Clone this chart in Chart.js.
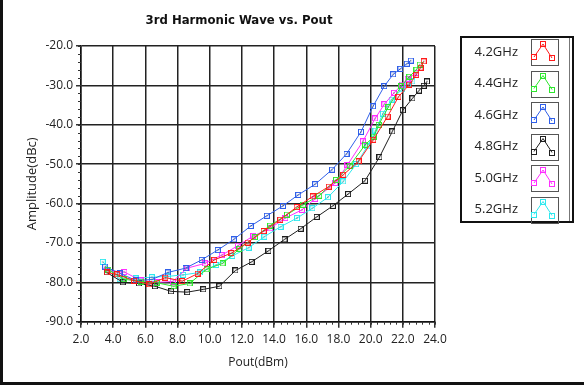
<!DOCTYPE html>
<html>
<head>
<meta charset="utf-8">
<script src="https://cdn.jsdelivr.net/npm/chart.js@4.4.0/dist/chart.umd.min.js"></script>
<style>
  html, body { margin: 0; padding: 0; background: #fff; }
  #wrap { position: relative; width: 584px; height: 385px; overflow: hidden; }
  #frameL { position: absolute; left: 0; top: 0; width: 3px; height: 385px; background: #111; }
  #frameB { position: absolute; left: 0; bottom: 0; width: 584px; height: 3px; background: #111; }
</style>
</head>
<body>
<div id="wrap">
  <canvas id="harmonicChart" width="584" height="385"></canvas>
  <div id="frameL"></div>
  <div id="frameB"></div>
</div>
<script>
// ========== DATA ==========
const seriesLabels = ['4.2GHz', '4.4GHz', '4.6GHz', '4.8GHz', '5.0GHz', '5.2GHz'];
const seriesColors = ['#ff1a1a', '#2ee62e', '#2f5fe8', '#1e1e1e', '#ff2eff', '#2ee8ee'];

const pout42 = [3.6, 4.25, 5.3, 6.25, 7.25, 8.3, 9.25, 10.28, 11.35, 12.35, 13.35, 14.38, 15.4, 16.4, 17.4, 18.3, 19.25, 20.17, 21.05, 21.73, 22.4, 22.83, 23.1, 23.3];
const amp42  = [-77.5, -78, -79.6, -80.5, -78.8, -79.7, -77.8, -74.3, -72.6, -69.9, -67, -64.1, -60.9, -58.2, -55.7, -52.7, -49.3, -43.8, -37.9, -32.9, -29.8, -27.3, -25.5, -23.9];

const pout44 = [3.7, 4.65, 5.7, 6.7, 7.75, 8.75, 9.8, 10.8, 11.85, 12.8, 13.75, 14.8, 15.8, 16.8, 17.85, 18.7, 19.66, 20.2, 20.5, 21.1, 21.9, 22.4, 22.85, 23.05];
const amp44  = [-76.8, -79.2, -79.8, -80.1, -81, -80.3, -76.7, -75.2, -71.5, -68.5, -65.6, -62.8, -60.3, -58, -54, -50.4, -45.1, -43, -40, -35.5, -30.2, -27.8, -26, -24.7];

const pout46 = [3.5, 4.4, 5.4, 6.4, 7.4, 8.5, 9.5, 10.5, 11.5, 12.55, 13.55, 14.55, 15.5, 16.55, 17.6, 18.5, 19.4, 20.15, 20.85, 21.4, 21.85, 22.25, 22.5];
const amp46  = [-76, -77.7, -79.5, -79.3, -77.5, -76.4, -74.3, -71.8, -69.1, -65.7, -63.1, -60.6, -57.8, -55.1, -51.4, -47.4, -41.8, -35.3, -30.2, -27.2, -25.8, -24.5, -23.7];

const pout48 = [3.6, 4.6, 5.6, 6.6, 7.6, 8.6, 9.6, 10.6, 11.6, 12.6, 13.65, 14.65, 15.65, 16.65, 17.65, 18.6, 19.65, 20.55, 21.35, 22.0, 22.6, 23.0, 23.3, 23.5];
const amp48  = [-77.5, -80, -80.3, -81, -82.3, -82.5, -81.8, -81, -77, -74.8, -72, -69.1, -66.4, -63.4, -60.6, -57.6, -54.2, -48.2, -41.7, -36.3, -33.3, -31.3, -30.1, -29];

const pout50 = [3.6, 4.7, 5.7, 6.7, 7.7, 8.6, 9.7, 10.75, 11.75, 12.72, 13.75, 14.7, 15.73, 16.55, 17.8, 18.56, 19.52, 20.28, 20.85, 21.45, 21.95, 22.3, 22.83];
const amp50  = [-77, -77.4, -79.5, -80, -79.8, -76.4, -75.2, -73.1, -70.7, -68.2, -66.3, -63.7, -61.6, -58.8, -54.8, -50.2, -44.2, -38.4, -34.8, -31.9, -29.8, -28.3, -26.8];

const pout52 = [3.35, 4.4, 5.4, 6.4, 7.4, 8.35, 9.4, 10.4, 11.4, 12.42, 13.4, 14.4, 15.42, 16.38, 17.35, 18.3, 19.1, 19.8, 20.3, 20.76, 21.3, 21.95, 22.3, 22.6];
const amp52  = [-74.8, -79.2, -79, -78.7, -78.5, -78.1, -77.5, -75.6, -73.3, -71.2, -68.4, -65.9, -63.7, -61.2, -58.4, -54.4, -50, -45.5, -41.5, -37.2, -33.6, -31, -29.8, -29];

const xMin = 2, xMax = 24, xStep = 2, xMinorStep = 0.4;
const yMin = -90, yMax = -20, yStep = 10, yMinorStep = 2;

const poutSets = [pout42, pout44, pout46, pout48, pout50, pout52];
const ampSets = [amp42, amp44, amp46, amp48, amp50, amp52];

// ========== HELPERS ==========
function toPoints(xs, ys) {
  return xs.map((x, i) => ({ x: x, y: ys[i] }));
}

// hollow square marker with a small dot in the middle
function makeMarker(color) {
  const c = document.createElement('canvas');
  c.width = 6; c.height = 6;
  const g = c.getContext('2d');
  g.strokeStyle = color;
  g.lineWidth = 1;
  g.strokeRect(0.5, 0.5, 5, 5);
  g.fillStyle = '#444';
  g.fillRect(2.5, 2.5, 1, 1);
  return c;
}

const tickFont = { family: '"Open Sans", "Liberation Sans", sans-serif', size: 12 };

// ========== PLUGINS ==========
const minorTicks = {
  id: 'minorTicks',
  afterDraw(chart) {
    const { ctx, chartArea: a } = chart;
    const xs = chart.scales.x, ys = chart.scales.y;
    ctx.save();
    ctx.strokeStyle = '#333';
    ctx.lineWidth = 1;
    ctx.beginPath();
    for (let v = xMin; v <= xMax + 1e-6; v += xMinorStep) {
      const px = Math.round(xs.getPixelForValue(v)) + 0.5;
      ctx.moveTo(px, a.bottom);
      ctx.lineTo(px, a.bottom + 3);
    }
    for (let v = yMin; v <= yMax + 1e-6; v += yMinorStep) {
      const py = Math.round(ys.getPixelForValue(v)) + 0.5;
      ctx.moveTo(a.left, py);
      ctx.lineTo(a.left - 3, py);
    }
    ctx.stroke();
    ctx.restore();
  }
};

const chartTitle = {
  id: 'chartTitle',
  afterDraw(chart) {
    const ctx = chart.ctx;
    ctx.save();
    ctx.fillStyle = '#111';
    ctx.font = 'bold 13px "DejaVu Sans Condensed", "Liberation Sans", sans-serif';
    ctx.textAlign = 'center';
    ctx.textBaseline = 'middle';
    ctx.fillText('3rd Harmonic Wave vs. Pout', 239, 21);
    ctx.restore();
  }
};

const sideLegend = {
  id: 'sideLegend',
  afterDraw(chart) {
    const ctx = chart.ctx;
    const box = { left: 461, top: 37, right: 573, bottom: 222 };
    ctx.save();
    ctx.strokeStyle = '#111';
    ctx.lineWidth = 2;
    ctx.strokeRect(box.left, box.top, box.right - box.left, box.bottom - box.top);
    ctx.strokeStyle = '#777';
    ctx.lineWidth = 1;
    ctx.beginPath();
    ctx.moveTo(569.5, box.top + 1);
    ctx.lineTo(569.5, box.bottom - 1);
    ctx.stroke();

    ctx.font = '13px "Open Sans", "Liberation Sans", sans-serif';
    ctx.textAlign = 'right';
    ctx.textBaseline = 'middle';
    chart.data.datasets.forEach((ds, i) => {
      const top = 39 + i * 31.5;
      const iconL = 531, iconW = 27, iconH = 26;
      ctx.fillStyle = '#222';
      ctx.fillText(ds.label, 518, top + iconH / 2);
      ctx.strokeStyle = '#555';
      ctx.lineWidth = 1;
      ctx.strokeRect(iconL + 0.5, Math.round(top) + 0.5, iconW, iconH);
      const pts = [[iconL + 3, top + 18], [iconL + 12, top + 5], [iconL + 21, top + 19]];
      ctx.strokeStyle = ds.borderColor;
      ctx.beginPath();
      ctx.moveTo(pts[0][0], pts[0][1]);
      ctx.lineTo(pts[1][0], pts[1][1]);
      ctx.lineTo(pts[2][0], pts[2][1]);
      ctx.stroke();
      pts.forEach(p => {
        ctx.strokeRect(Math.round(p[0]) - 2.5, Math.round(p[1]) - 2.5, 5, 5);
      });
    });
    ctx.restore();
  }
};

// ========== CHART ==========
const datasets = seriesLabels.map((label, i) => ({
  label: label,
  data: toPoints(poutSets[i], ampSets[i]),
  borderColor: seriesColors[i],
  backgroundColor: seriesColors[i],
  borderWidth: 1,
  pointStyle: makeMarker(seriesColors[i]),
  pointRadius: 3,
  tension: 0
}));

new Chart(document.getElementById('harmonicChart'), {
  type: 'line',
  data: { datasets: datasets },
  plugins: [minorTicks, chartTitle, sideLegend],
  options: {
    responsive: false,
    animation: false,
    devicePixelRatio: 1,
    layout: { padding: { top: 46, right: 149, left: 3, bottom: 3 } },
    plugins: {
      legend: { display: false },
      tooltip: { enabled: false },
      title: { display: false }
    },
    scales: {
      x: {
        type: 'linear',
        min: xMin,
        max: xMax,
        afterFit(scale) { scale.height = 60.3; },
        border: { color: '#111', width: 1.5 },
        grid: { color: '#222', lineWidth: 1.5, tickLength: 6, tickColor: '#333' },
        ticks: {
          stepSize: xStep,
          color: '#222',
          font: tickFont,
          padding: 5,
          maxRotation: 0,
          callback: v => v.toFixed(1)
        },
        title: {
          display: true,
          text: 'Pout(dBm)',
          color: '#222',
          font: tickFont,
          padding: { top: 0, bottom: 12 }
        }
      },
      y: {
        min: yMin,
        max: yMax,
        afterFit(scale) { scale.width = 78; },
        border: { color: '#111', width: 1.5 },
        grid: { color: '#222', lineWidth: 1.5, tickLength: 5, tickColor: '#333' },
        ticks: {
          stepSize: yStep,
          color: '#222',
          font: tickFont,
          padding: 3,
          callback: v => v.toFixed(1)
        },
        title: {
          display: true,
          text: 'Amplitude(dBc)',
          color: '#222',
          font: { family: tickFont.family, size: 13 },
          padding: { top: 21, bottom: 0 }
        }
      }
    }
  }
});
</script>
</body>
</html>
